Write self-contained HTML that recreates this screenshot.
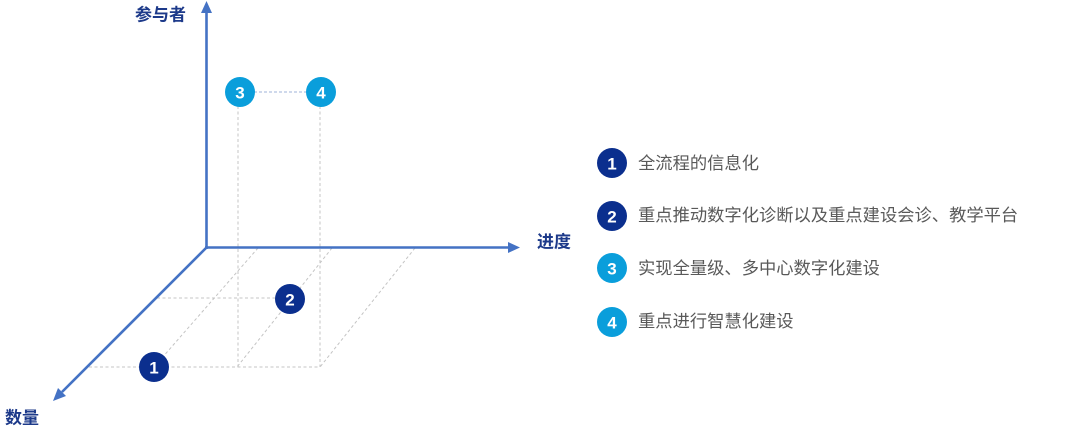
<!DOCTYPE html>
<html><head><meta charset="utf-8"><style>
html,body{margin:0;padding:0;background:#fff;}
svg{display:block;}
text{font-family:"Liberation Sans","Noto Sans CJK SC",sans-serif;}
</style></head><body>
<svg width="1080" height="432" viewBox="0 0 1080 432" xmlns="http://www.w3.org/2000/svg">
  <!-- dashed guide lines -->
  <g stroke="#c4c4c4" stroke-width="1" stroke-dasharray="3,2.5" fill="none">
    <line x1="238" y1="106" x2="238" y2="367"/>
    <line x1="320" y1="106" x2="320" y2="367"/>
    <line x1="89" y1="367" x2="320" y2="367"/>
    <line x1="157" y1="298" x2="290" y2="298"/>
    <line x1="258" y1="248" x2="154" y2="367"/>
    <line x1="332" y1="248" x2="237" y2="367"/>
    <line x1="415" y1="248" x2="320" y2="367"/>
  </g>
  <line x1="254" y1="92" x2="306" y2="92" stroke="#9fb3d9" stroke-width="1" stroke-dasharray="3,2"/>

  <!-- axes -->
  <g stroke="#4472c4" stroke-width="2.6" fill="none">
    <line x1="206.5" y1="249" x2="206.5" y2="12"/>
    <line x1="205" y1="247.5" x2="510" y2="247.5"/>
    <line x1="207" y1="247" x2="62" y2="392"/>
  </g>
  <g fill="#4472c4">
    <polygon points="206.5,1 201,13 212,13"/>
    <polygon points="520,247.5 508,242 508,253"/>
    <polygon points="53,401 58,388 66,396"/>
  </g>

  <!-- axis labels -->
  <g fill="#1d3a8a" font-size="17" font-weight="bold">
    <text x="135" y="15" dominant-baseline="central">参与者</text>
    <text x="537" y="242" dominant-baseline="central">进度</text>
    <text x="5" y="418" dominant-baseline="central">数量</text>
  </g>

  <!-- chart circles -->
  <g font-size="17" font-weight="bold" fill="#fff" text-anchor="middle">
    <circle cx="154" cy="367" r="15" fill="#0b2f8e"/>
    <text x="154" y="368" dominant-baseline="central">1</text>
    <circle cx="290" cy="299" r="15" fill="#0b2f8e"/>
    <text x="290" y="300" dominant-baseline="central">2</text>
    <circle cx="240" cy="92" r="15" fill="#0a9edb"/>
    <text x="240" y="93" dominant-baseline="central">3</text>
    <circle cx="321" cy="92" r="15" fill="#0a9edb"/>
    <text x="321" y="93" dominant-baseline="central">4</text>
  </g>

  <!-- legend -->
  <g font-size="17" font-weight="bold" fill="#fff" text-anchor="middle">
    <circle cx="612" cy="163" r="15" fill="#0b2f8e"/>
    <text x="612" y="164" dominant-baseline="central">1</text>
    <circle cx="612" cy="216" r="15" fill="#0b2f8e"/>
    <text x="612" y="217" dominant-baseline="central">2</text>
    <circle cx="612" cy="268" r="15" fill="#0a9edb"/>
    <text x="612" y="269" dominant-baseline="central">3</text>
    <circle cx="612" cy="322" r="15" fill="#0a9edb"/>
    <text x="612" y="323" dominant-baseline="central">4</text>
  </g>
  <g font-size="17.3" fill="#595959">
    <text x="638" y="163" dominant-baseline="central">全流程的信息化</text>
    <text x="638" y="215" dominant-baseline="central">重点推动数字化诊断以及重点建设会诊、教学平台</text>
    <text x="638" y="268" dominant-baseline="central">实现全量级、多中心数字化建设</text>
    <text x="638" y="321" dominant-baseline="central">重点进行智慧化建设</text>
  </g>
</svg>
</body></html>
